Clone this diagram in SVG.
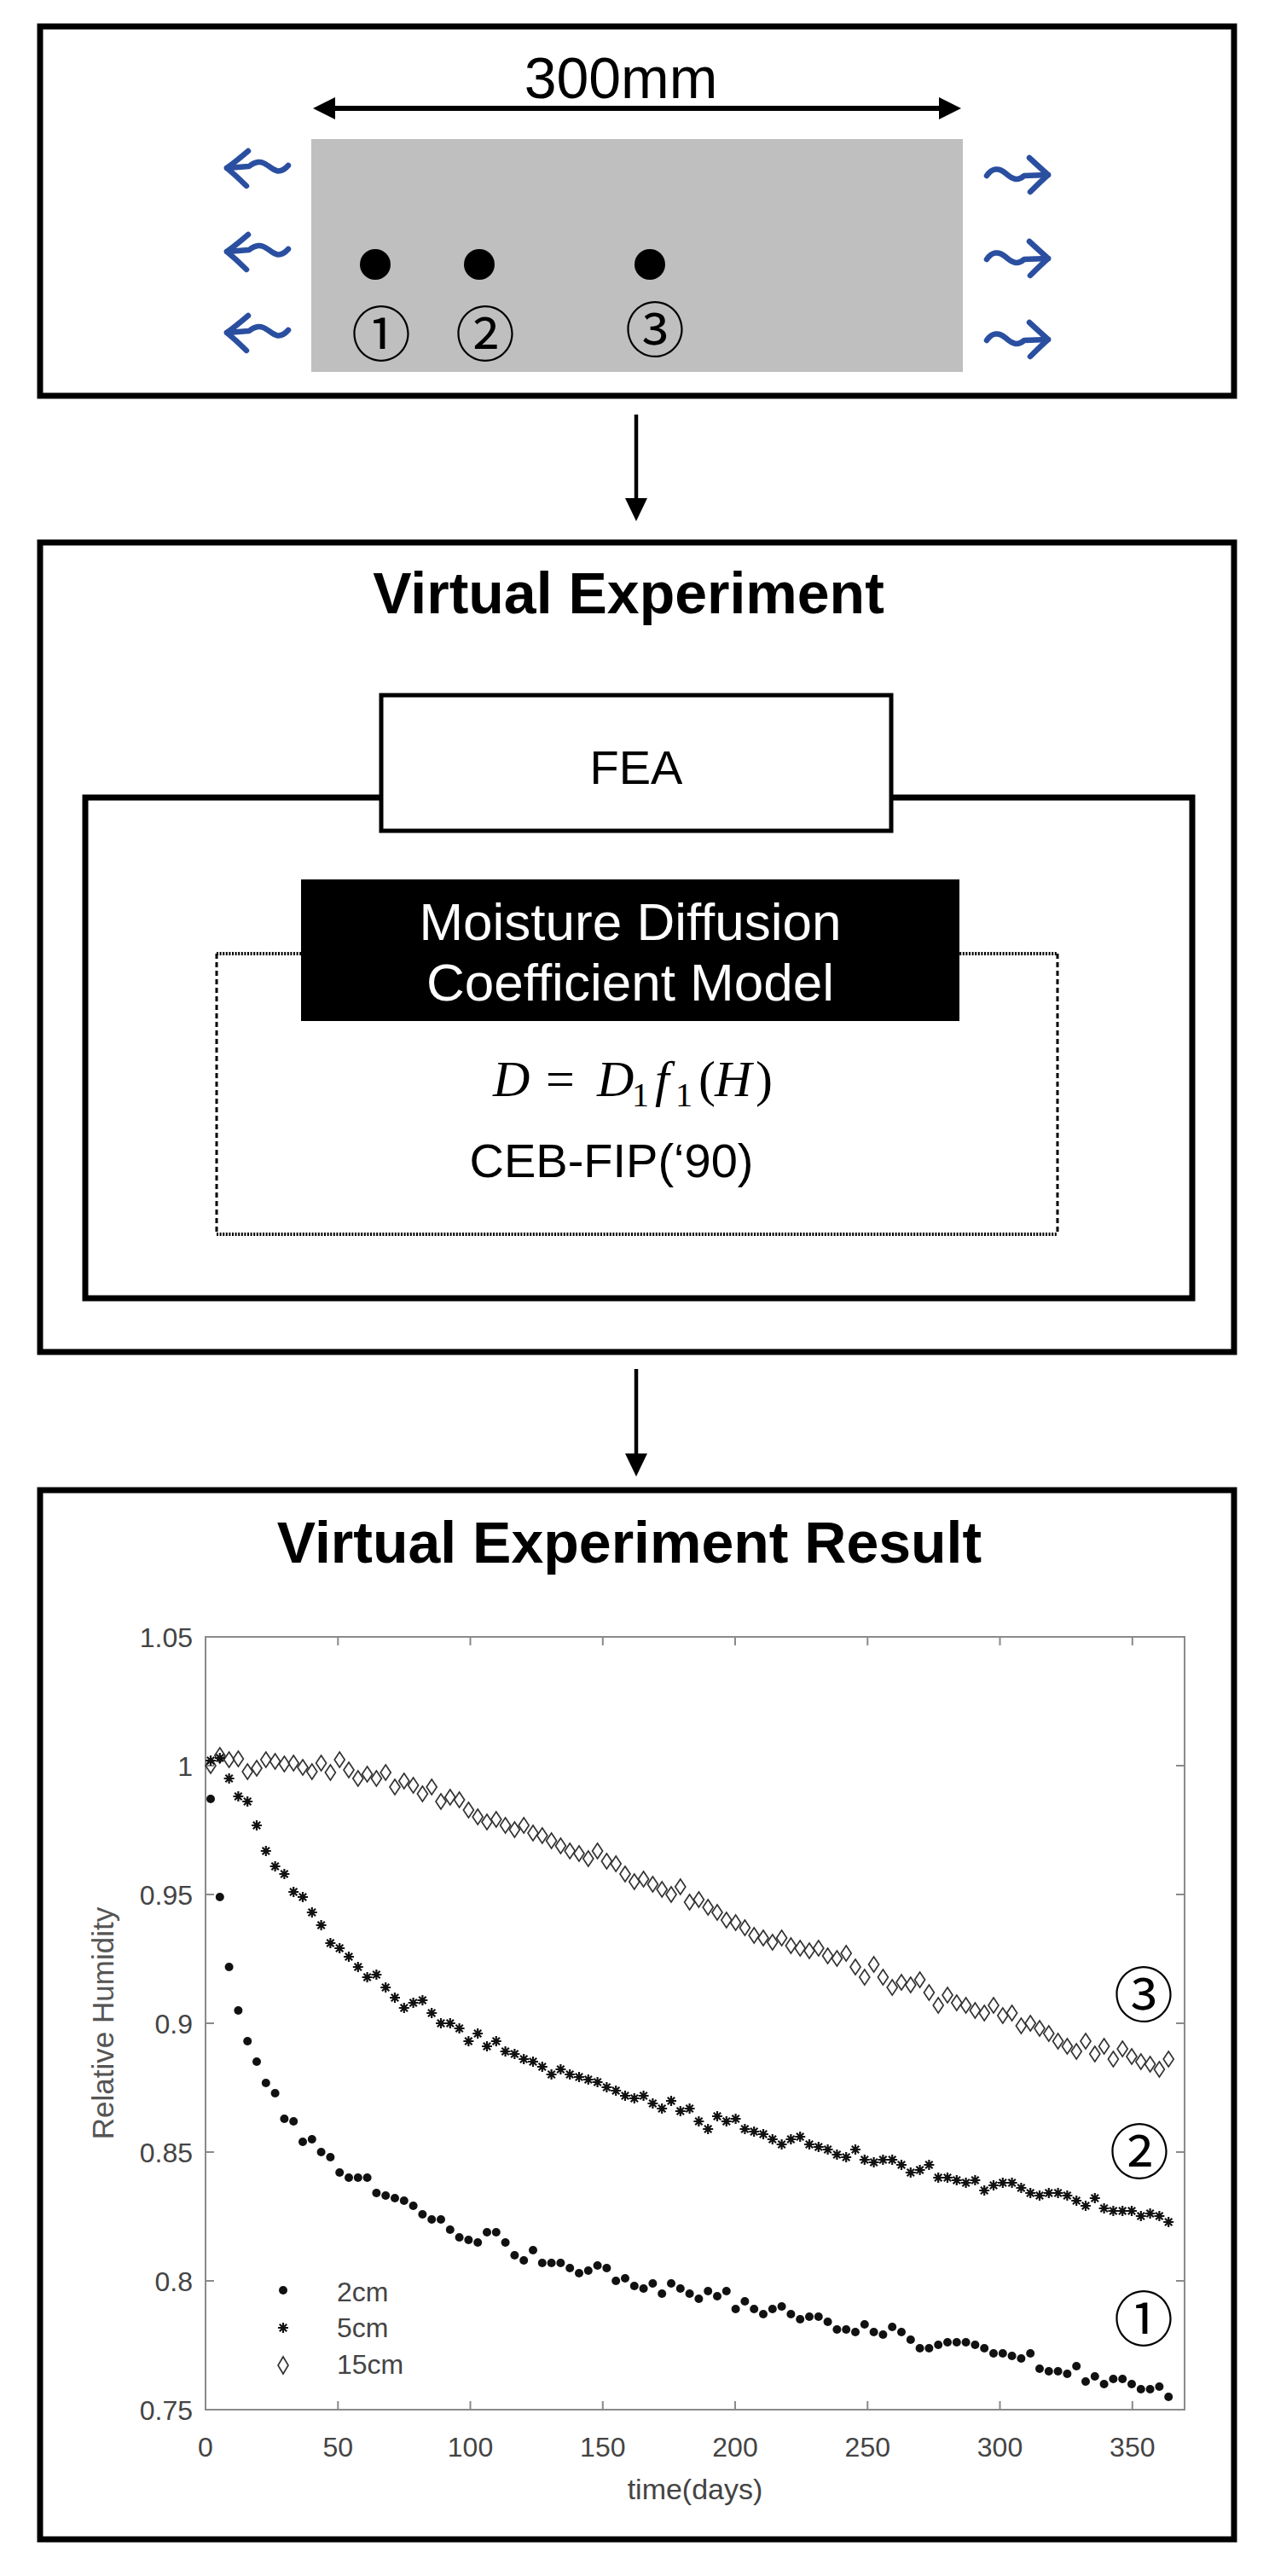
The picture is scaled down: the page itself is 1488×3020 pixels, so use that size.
<svg xmlns="http://www.w3.org/2000/svg" xmlns:xlink="http://www.w3.org/1999/xlink" width="1488" height="3020" viewBox="0 0 1488 3020">
<style>
.box{fill:#fff;stroke:#000;stroke-width:7}
.sans{font-family:"Liberation Sans",Arial,sans-serif}
.title{font-family:"Liberation Sans",Arial,sans-serif;font-weight:bold;font-size:68px;fill:#000;text-anchor:middle}
.circ{font-family:"Noto Sans CJK KR","Noto Sans CJK JP",sans-serif;font-size:70px;fill:#000;text-anchor:middle}
.wave{fill:none;stroke:#2b4fa0;stroke-width:6.5;stroke-linecap:round;stroke-linejoin:round}
.conn{stroke:#000;stroke-width:4.5;fill:none}
.axis{fill:none;stroke:#8a8a8a;stroke-width:2}
.tick{stroke:#8a8a8a;stroke-width:2}
.tl{font-family:"Liberation Sans",Arial,sans-serif;font-size:32px;fill:#444}
.series{fill:none;stroke:none}
.math{font-family:"Liberation Serif","Times New Roman",serif;font-size:60px;fill:#000}
</style>
<defs>
<g id="wl">
<path class="wave" d="M3,0 L29,-2 C37,-8 43,-9 51,-3 S65,8 75,-3"/>
<path class="wave" d="M28,-20 Q14,-8 3,0 Q14,9 26,21"/>
</g>
<g id="wr">
<path class="wave" d="M-75,1 C-69,-8 -61,-9 -53,-2 S-39,8 -31,1 L-3,0"/>
<path class="wave" d="M-25,-20 Q-12,-8 -3,0 Q-12,8 -24,20"/>
</g>
<marker id="mDot" markerUnits="userSpaceOnUse" markerWidth="12" markerHeight="12" refX="6" refY="6" overflow="visible">
<circle cx="6" cy="6" r="5" fill="#111"/>
</marker>
<marker id="mAst" markerUnits="userSpaceOnUse" markerWidth="14" markerHeight="14" refX="7" refY="7" overflow="visible">
<path d="M7,1 V13 M1,7 H13 M2.8,2.8 L11.2,11.2 M11.2,2.8 L2.8,11.2" stroke="#111" stroke-width="2.2" fill="none"/>
</marker>
<marker id="mDia" markerUnits="userSpaceOnUse" markerWidth="16" markerHeight="22" refX="8" refY="11" overflow="visible">
<path d="M8,2 L14,11 L8,20 L2,11Z" fill="none" stroke="#333" stroke-width="1.7"/>
</marker>
</defs>
<rect width="1488" height="3020" fill="#fff"/>

<g id="specimen">
<rect class="box" x="47" y="31" width="1400" height="433"/>
<rect x="365" y="163" width="764" height="273" fill="#bfbfbf"/>
<line x1="385" y1="127" x2="1109" y2="127" stroke="#000" stroke-width="6"/>
<polygon points="367,127 393,114 393,140" fill="#000"/>
<polygon points="1127,127 1101,114 1101,140" fill="#000"/>
<text class="sans" x="728" y="115" font-size="68" text-anchor="middle">300mm</text>
<circle cx="440" cy="310" r="18" fill="#000"/>
<circle cx="562" cy="310" r="18" fill="#000"/>
<circle cx="762" cy="310" r="18" fill="#000"/>
<text class="circ" x="447" y="418">①</text>
<text class="circ" x="569" y="418">②</text>
<text class="circ" x="768" y="413">③</text>
<use xlink:href="#wl" x="263" y="197"/>
<use xlink:href="#wl" x="263" y="295"/>
<use xlink:href="#wl" x="263" y="390"/>
<use xlink:href="#wr" x="1232" y="205"/>
<use xlink:href="#wr" x="1232" y="303"/>
<use xlink:href="#wr" x="1232" y="398"/>
</g>

<g id="connectors">
<line class="conn" x1="746" y1="486" x2="746" y2="590"/>
<polygon points="733,584 759,584 746,611" fill="#000"/>
<line class="conn" x1="746" y1="1605" x2="746" y2="1710"/>
<polygon points="733,1704 759,1704 746,1731" fill="#000"/>
</g>

<g id="virtual-experiment">
<rect class="box" x="47" y="636" width="1400" height="949"/>
<text class="title" x="737" y="719">Virtual Experiment</text>
</g>

<g id="fea">
<rect class="box" x="100" y="935" width="1298" height="587"/>
<rect x="447" y="815" width="598" height="159" fill="#fff" stroke="#000" stroke-width="5"/>
<text class="sans" x="746" y="919" font-size="56" text-anchor="middle">FEA</text>
</g>

<g id="model">
<path d="M254,1118 H1240 M254,1447 H1240" fill="none" stroke="#000" stroke-width="4" stroke-dasharray="2 1.6"/>
<path d="M254,1118 V1447 M1240,1118 V1447" fill="none" stroke="#000" stroke-width="3" stroke-dasharray="6 4"/>
<rect x="353" y="1031" width="772" height="166" fill="#000"/>
<text class="sans" x="739" y="1102" font-size="62" fill="#fff" text-anchor="middle">Moisture Diffusion</text>
<text class="sans" x="739" y="1173" font-size="62" fill="#fff" text-anchor="middle">Coefficient Model</text>
<text class="math" y="1285"><tspan x="578" font-style="italic">D</tspan><tspan x="640">=</tspan><tspan x="700" font-style="italic">D</tspan><tspan x="741" y="1297" font-size="40">1</tspan><tspan x="768" y="1285" font-style="italic">f</tspan><tspan x="792" y="1297" font-size="40">1</tspan><tspan x="819" y="1285">(</tspan><tspan x="838" font-style="italic">H</tspan><tspan x="886">)</tspan></text>
<text class="sans" x="717" y="1380" font-size="56" text-anchor="middle">CEB-FIP(‘90)</text>
</g>

<g id="result">
<rect class="box" x="47" y="1747" width="1400" height="1230"/>
<text class="title" x="738" y="1832">Virtual Experiment Result</text>
</g>

<g id="chart">
<rect class="axis" x="241" y="1919" width="1148" height="906"/>
<path class="tick" d="M396.3,2825v-10M551.5,2825v-10M706.8,2825v-10M862,2825v-10M1017.3,2825v-10M1172.5,2825v-10M1327.8,2825v-10M396.3,1919v10M551.5,1919v10M706.8,1919v10M862,1919v10M1017.3,1919v10M1172.5,1919v10M1327.8,1919v10M241,2070h10M241,2221h10M241,2372h10M241,2523h10M241,2674h10M1389,2070h-10M1389,2221h-10M1389,2372h-10M1389,2523h-10M1389,2674h-10"/>
<g class="tl" text-anchor="end">
<text x="226" y="1931">1.05</text>
<text x="226" y="2082">1</text>
<text x="226" y="2233">0.95</text>
<text x="226" y="2384">0.9</text>
<text x="226" y="2535">0.85</text>
<text x="226" y="2686">0.8</text>
<text x="226" y="2837">0.75</text>
</g>
<g class="tl" text-anchor="middle">
<text x="241" y="2880">0</text>
<text x="396.3" y="2880">50</text>
<text x="551.5" y="2880">100</text>
<text x="706.8" y="2880">150</text>
<text x="862" y="2880">200</text>
<text x="1017.3" y="2880">250</text>
<text x="1172.5" y="2880">300</text>
<text x="1327.8" y="2880">350</text>
<text x="815" y="2930" font-size="34">time(days)</text>
<text transform="translate(133,2372) rotate(-90)" x="0" y="0" font-size="35" fill="#555">Relative Humidity</text>
</g>

<polyline class="series" marker-start="url(#mDia)" marker-mid="url(#mDia)" marker-end="url(#mDia)" points="247,2070 257.8,2058 268.6,2063 279.4,2062 290.2,2077 301,2073 311.8,2063 322.6,2065 333.4,2068 344.2,2067 355,2072 365.8,2077 376.6,2067 387.4,2078 398.2,2063 409,2075 419.8,2085 430.6,2080 441.4,2085 452.2,2078 463,2095 473.8,2088 484.6,2093 495.4,2103 506.2,2095 517,2112 527.8,2107 538.6,2110 549.4,2122 560.2,2130 571,2136 581.8,2133 592.6,2140 603.4,2145 614.2,2140 625,2149 635.8,2152 646.6,2158 657.4,2164 668.2,2170 679,2173 689.8,2179 700.6,2170 711.4,2182 722.2,2185 733,2197 743.8,2206 754.6,2203 765.4,2209 776.2,2215 787,2221 797.8,2212 808.6,2230 819.4,2227 830.2,2236 841,2242 851.8,2251 862.6,2254 873.4,2260 884.2,2269 895,2272 905.8,2277 916.6,2272 927.4,2281 938.2,2284 949,2287 959.8,2284 970.6,2293 981.4,2296 992.2,2290 1003,2306 1013.8,2318 1024.6,2303 1035.4,2318 1046.2,2330 1057,2324 1067.8,2327 1078.6,2321 1089.4,2336 1100.2,2351 1111,2339 1121.8,2348 1132.6,2351 1143.4,2357 1154.2,2360 1165,2351 1175.8,2363 1186.6,2360 1197.4,2375 1208.2,2372 1219,2378 1229.8,2384 1240.6,2393 1251.4,2399 1262.2,2405 1273,2393 1283.8,2408 1294.6,2399 1305.4,2414 1316.2,2402 1327,2411 1337.8,2417 1348.6,2420 1359.4,2426 1370.2,2414"/>
<polyline class="series" marker-start="url(#mAst)" marker-mid="url(#mAst)" marker-end="url(#mAst)" points="247,2064 257.8,2061 268.6,2085 279.4,2106 290.2,2112 301,2140 311.8,2170 322.6,2188 333.4,2197 344.2,2218 355,2224 365.8,2242 376.6,2257 387.4,2278 398.2,2284 409,2294 419.8,2306 430.6,2318 441.4,2315 452.2,2330 463,2342 473.8,2354 484.6,2348 495.4,2345 506.2,2360 517,2372 527.8,2372 538.6,2378 549.4,2393 560.2,2384 571,2399 581.8,2393 592.6,2405 603.4,2408 614.2,2414 625,2417 635.8,2423 646.6,2432 657.4,2426 668.2,2432 679,2435 689.8,2438 700.6,2441 711.4,2447 722.2,2451 733,2457 743.8,2460 754.6,2457 765.4,2466 776.2,2472 787,2463 797.8,2475 808.6,2472 819.4,2487 830.2,2496 841,2481 851.8,2487 862.6,2484 873.4,2496 884.2,2499 895,2502 905.8,2508 916.6,2514 927.4,2508 938.2,2505 949,2514 959.8,2517 970.6,2520 981.4,2526 992.2,2529 1003,2520 1013.8,2532 1024.6,2535 1035.4,2532 1046.2,2532 1057,2538 1067.8,2547 1078.6,2544 1089.4,2538 1100.2,2553 1111,2553 1121.8,2556 1132.6,2559 1143.4,2556 1154.2,2568 1165,2562 1175.8,2559 1186.6,2559 1197.4,2565 1208.2,2571 1219,2574 1229.8,2571 1240.6,2571 1251.4,2574 1262.2,2580 1273,2586 1283.8,2577 1294.6,2589 1305.4,2592 1316.2,2592 1327,2592 1337.8,2598 1348.6,2595 1359.4,2598 1370.2,2605"/>
<polyline class="series" marker-start="url(#mDot)" marker-mid="url(#mDot)" marker-end="url(#mDot)" points="247,2109 257.8,2224 268.6,2306 279.4,2357 290.2,2393 301,2417 311.8,2442 322.6,2454 333.4,2484 344.2,2487 355,2511 365.8,2508 376.6,2523 387.4,2529 398.2,2547 409,2553 419.8,2553 430.6,2553 441.4,2571 452.2,2574 463,2577 473.8,2580 484.6,2586 495.4,2596 506.2,2602 517,2602 527.8,2614 538.6,2623 549.4,2626 560.2,2629 571,2617 581.8,2617 592.6,2629 603.4,2644 614.2,2650 625,2638 635.8,2653 646.6,2653 657.4,2653 668.2,2659 679,2665 689.8,2662 700.6,2656 711.4,2659 722.2,2674 733,2671 743.8,2680 754.6,2683 765.4,2677 776.2,2689 787,2677 797.8,2683 808.6,2689 819.4,2695 830.2,2686 841,2692 851.8,2686 862.6,2707 873.4,2698 884.2,2707 895,2713 905.8,2707 916.6,2704 927.4,2713 938.2,2719 949,2716 959.8,2716 970.6,2722 981.4,2731 992.2,2731 1003,2734 1013.8,2725 1024.6,2734 1035.4,2737 1046.2,2728 1057,2734 1067.8,2743 1078.6,2753 1089.4,2753 1100.2,2749 1111,2746 1121.8,2746 1132.6,2746 1143.4,2749 1154.2,2753 1165,2759 1175.8,2759 1186.6,2762 1197.4,2765 1208.2,2759 1219,2777 1229.8,2780 1240.6,2780 1251.4,2783 1262.2,2774 1273,2792 1283.8,2786 1294.6,2795 1305.4,2789 1316.2,2789 1327,2795 1337.8,2801 1348.6,2801 1359.4,2798 1370.2,2810"/>

<g id="legend">
<circle cx="332" cy="2685" r="5" fill="#111"/>
<path d="M332,2723 V2735 M326,2729 H338 M327.8,2724.8 L336.2,2733.2 M336.2,2724.8 L327.8,2733.2" stroke="#111" stroke-width="2.2" fill="none"/>
<path d="M332,2763 L338,2773 L332,2783 L326,2773Z" fill="none" stroke="#333" stroke-width="1.7"/>
<text class="tl" x="395" y="2698" font-size="30" fill="#333">2cm</text>
<text class="tl" x="395" y="2740" font-size="30" fill="#333">5cm</text>
<text class="tl" x="395" y="2783" font-size="30" fill="#333">15cm</text>
</g>
<text class="circ" x="1341" y="2365">③</text>
<text class="circ" x="1336" y="2549">②</text>
<text class="circ" x="1341" y="2745">①</text>
</g>
</svg>
